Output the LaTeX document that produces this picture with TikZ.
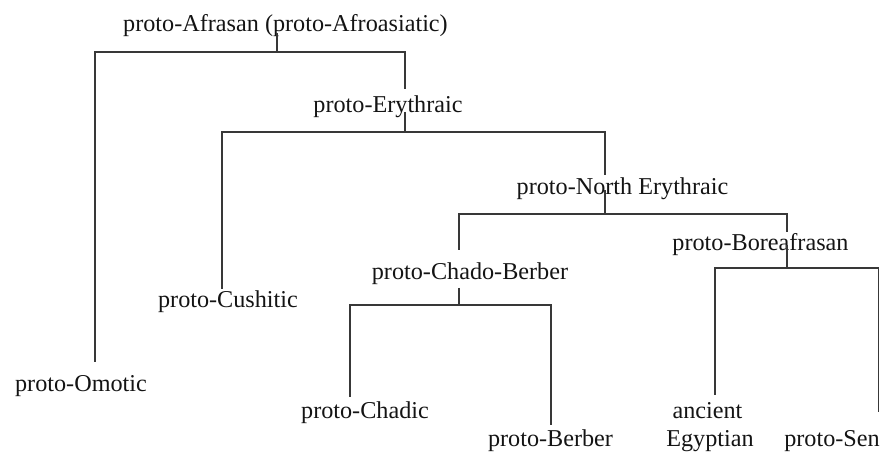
\documentclass[tikz,border=0pt]{standalone}
\usepackage{fontspec}
\setmainfont{Liberation Serif}
\begin{document}
\begin{tikzpicture}[x=0.5pt,y=-0.5pt,
  lbl/.style={inner sep=0pt, anchor=base, text=black!92, font=\fontsize{12.1pt}{14pt}\selectfont},
  br/.style={line width=0.6pt, draw=black!78}]
\useasboundingbox (0,0) rectangle (883,453);
% labels
\node[lbl] (afr)  at (285.5,31.7) {proto-Afrasan (proto-Afroasiatic)};
\node[lbl] (ery)  at (388,113)  {proto-Erythraic};
\node[lbl] (ner)  at (622.5,195) {proto-North Erythraic};
\node[lbl] (bor)  at (760.5,251) {proto-Boreafrasan};
\node[lbl] (chb)  at (470,280)  {proto-Chado-Berber};
\node[lbl] (cush) at (228,308)  {proto-Cushitic};
\node[lbl] (omot) at (81,392)   {proto-Omotic};
\node[lbl] (chad) at (365,419)  {proto-Chadic};
\node[lbl] (berb) at (550.5,447) {proto-Berber};
\node[lbl] (egya) at (707.5,419) {ancient};
\node[lbl] (egyb) at (710,447)  {Egyptian};
\node[lbl] (sen)  at (832,447)  {proto-Sen};
% connector end points
\coordinate (afr-s) at (277,33);   \coordinate (afr-j) at (277,52);
\coordinate (ery-s) at (405,112);  \coordinate (ery-j) at (405,132);
\coordinate (ner-s) at (605,190);  \coordinate (ner-j) at (605,214);
\coordinate (bor-s) at (787,245);  \coordinate (bor-j) at (787,268);
\coordinate (chb-s) at (459,288);  \coordinate (chb-j) at (459,305);
\coordinate (omot-t) at (95,362);
\coordinate (ery-t)  at (405,89);
\coordinate (cush-t) at (222,289);
\coordinate (ner-t)  at (605,175);
\coordinate (chb-t)  at (459,250);
\coordinate (bor-t)  at (787,232);
\coordinate (chad-t) at (350,397);
\coordinate (berb-t) at (551,425);
\coordinate (egy-t)  at (715,395);
\coordinate (sen-t)  at (878.5,412);
% connectors
\draw[br] (afr-s) -- (afr-j);
\draw[br] (omot-t) |- (afr-j) -| (ery-t);
\draw[br] (ery-s) -- (ery-j);
\draw[br] (cush-t) |- (ery-j) -| (ner-t);
\draw[br] (ner-s) -- (ner-j);
\draw[br] (chb-t) |- (ner-j) -| (bor-t);
\draw[br] (bor-s) -- (bor-j);
\draw[br] (egy-t) |- (bor-j) -| (sen-t);
\draw[br] (chb-s) -- (chb-j);
\draw[br] (chad-t) |- (chb-j) -| (berb-t);
\end{tikzpicture}
\end{document}
